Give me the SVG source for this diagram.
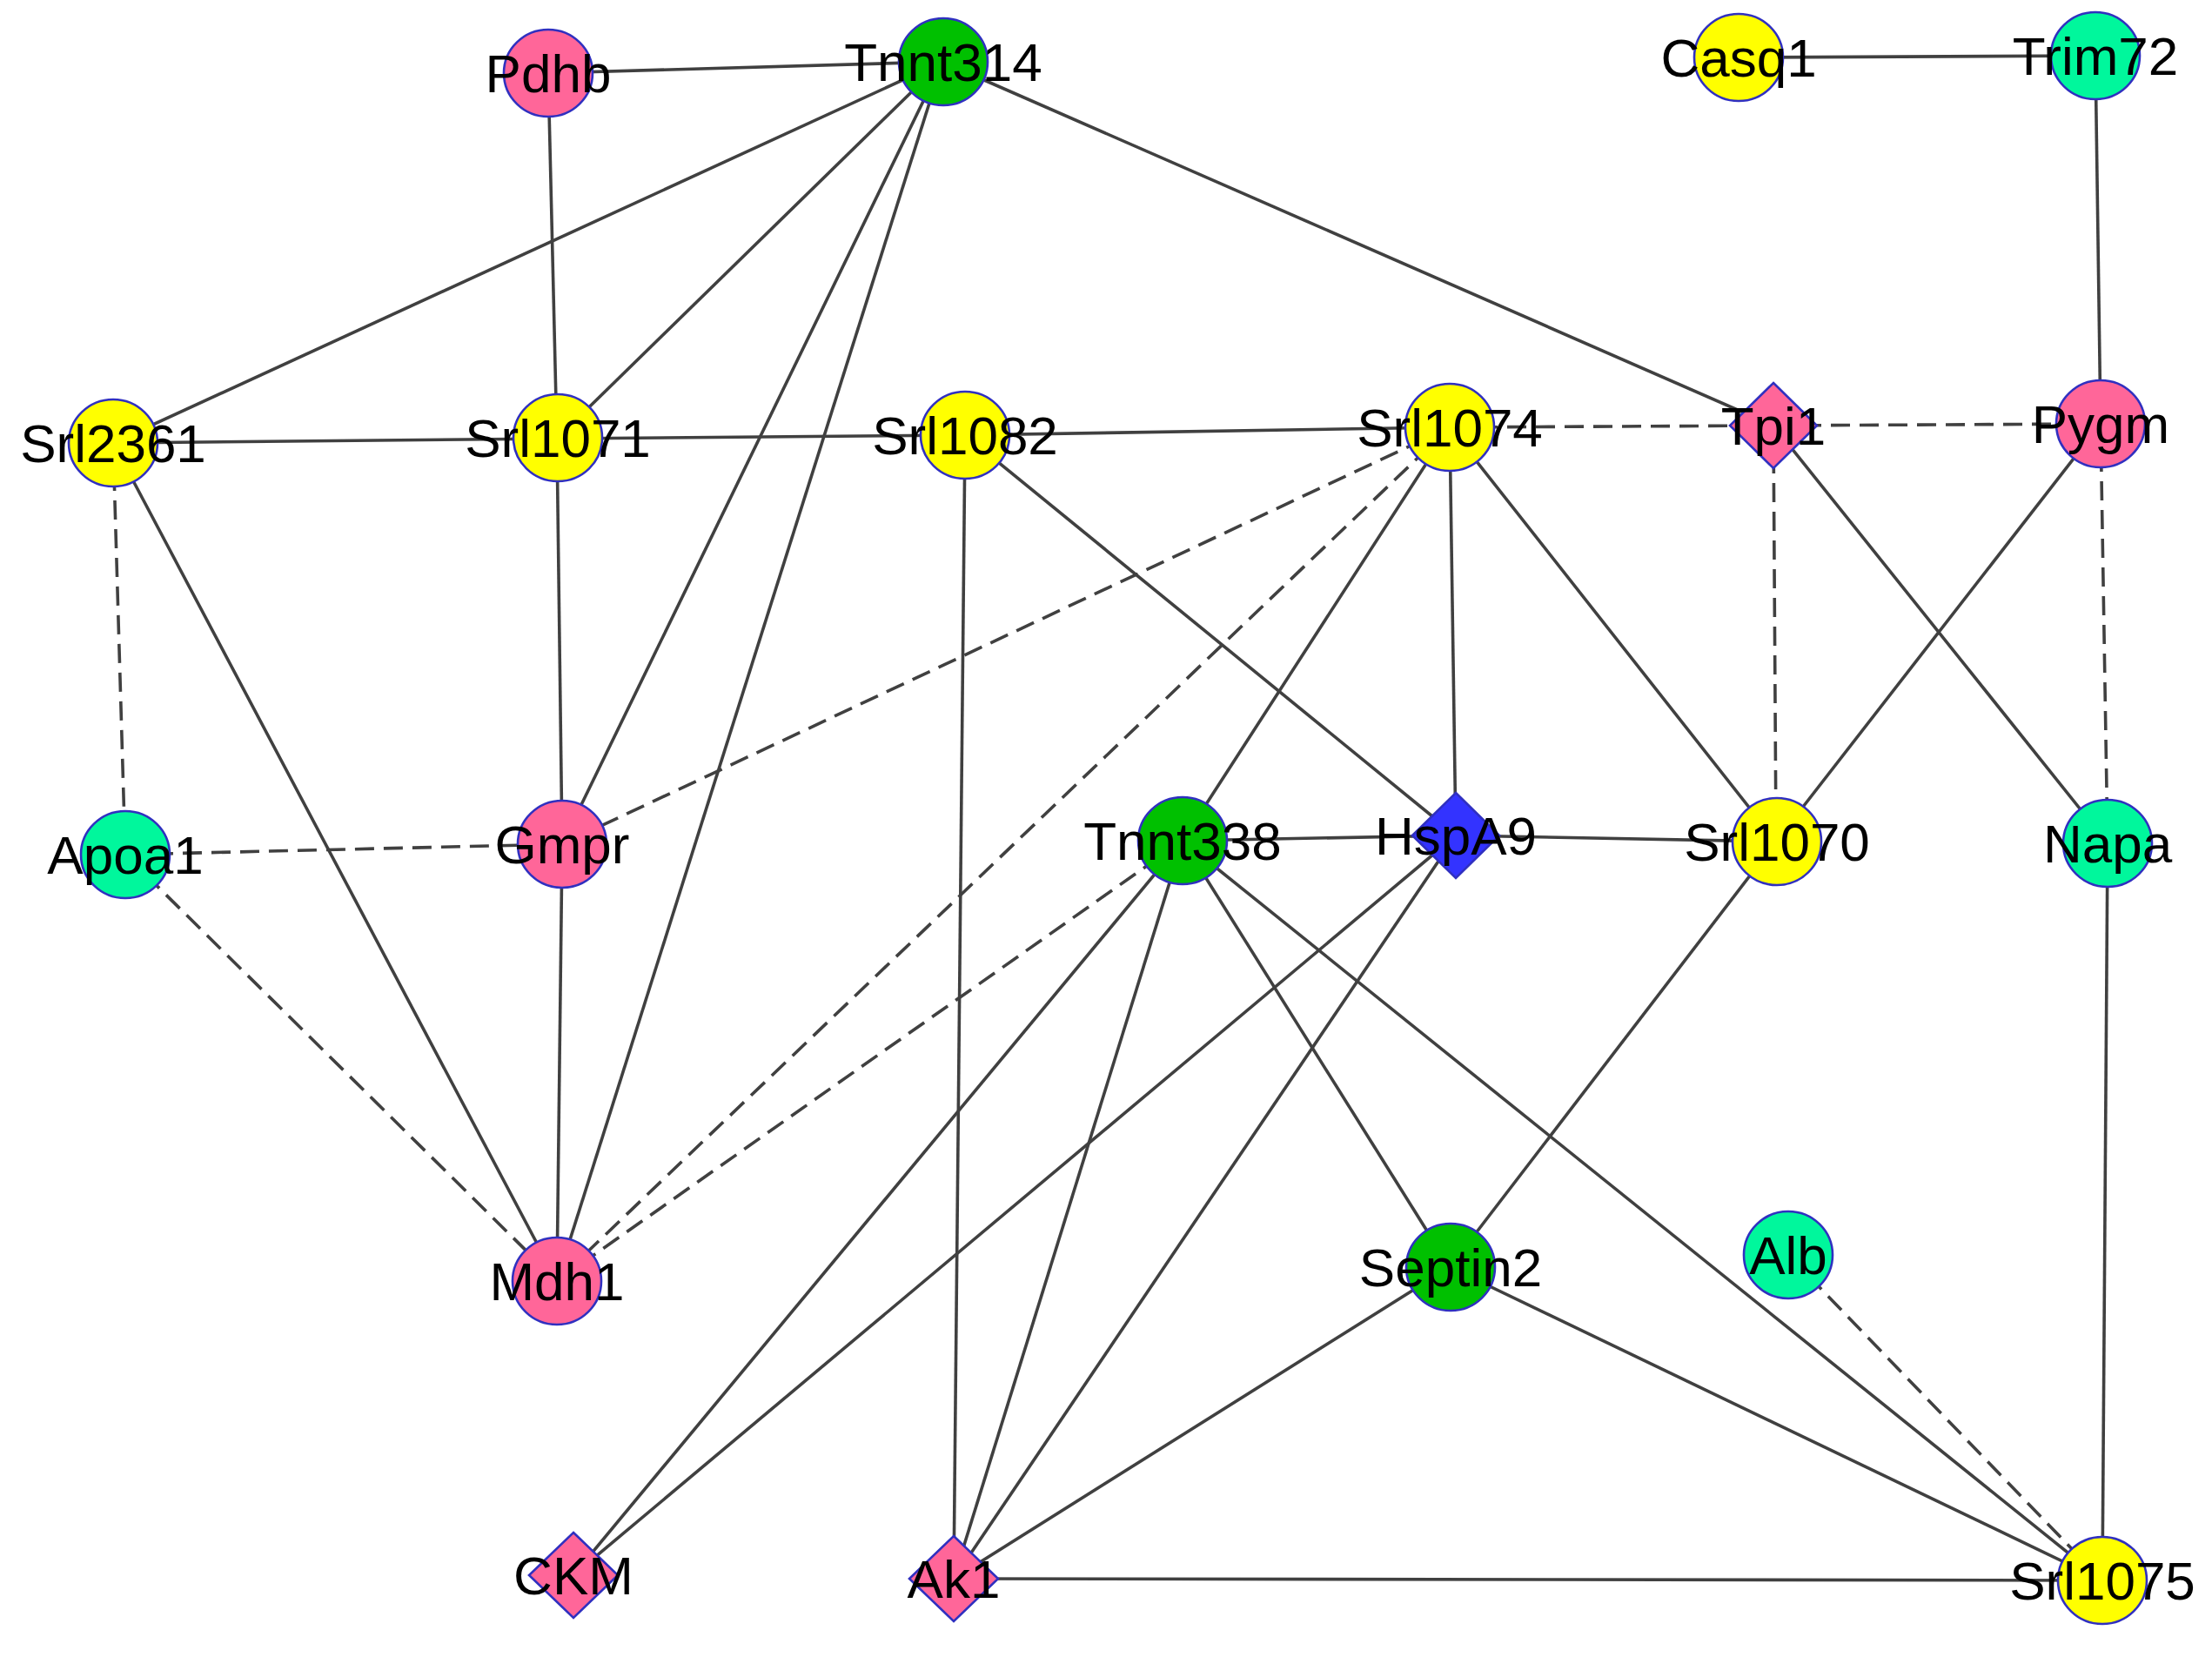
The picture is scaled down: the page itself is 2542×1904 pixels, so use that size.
<svg xmlns="http://www.w3.org/2000/svg" width="2542" height="1904" viewBox="0 0 2542 1904">
<style>
.e{stroke:#404040;stroke-width:3.6;fill:none}
.d{stroke:#404040;stroke-width:3.6;fill:none;stroke-dasharray:22 11}
.n{stroke:#3030c0;stroke-width:2.6}
.pink{fill:#ff6699}
.green{fill:#00c000}
.yellow{fill:#ffff00}
.mint{fill:#00f79c}
.blue{fill:#3333ff}
text{font-family:"Liberation Sans",Arial,sans-serif;font-size:62px;fill:#000;text-anchor:middle}
</style>
<rect width="2542" height="1904" fill="#fff"/>
<g id="connectors">
<line class="e" x1="630" y1="84" x2="1083" y2="71"/>
<line class="e" x1="630" y1="84" x2="640" y2="504"/>
<line class="e" x1="1083" y1="71" x2="130" y2="509"/>
<line class="e" x1="1083" y1="71" x2="640" y2="504"/>
<line class="e" x1="1083" y1="71" x2="646" y2="970"/>
<line class="e" x1="1083" y1="71" x2="640" y2="1472"/>
<line class="e" x1="1083" y1="71" x2="2038" y2="489"/>
<line class="e" x1="1998" y1="66" x2="2408" y2="64"/>
<line class="e" x1="2408" y1="64" x2="2414" y2="487"/>
<line class="e" x1="130" y1="509" x2="640" y2="504"/>
<line class="e" x1="640" y1="504" x2="1109" y2="500"/>
<line class="e" x1="1109" y1="500" x2="1666" y2="491"/>
<line class="e" x1="130" y1="509" x2="640" y2="1472"/>
<line class="e" x1="640" y1="504" x2="646" y2="970"/>
<line class="e" x1="646" y1="970" x2="640" y2="1472"/>
<line class="e" x1="1109" y1="500" x2="1096" y2="1814"/>
<line class="e" x1="1109" y1="500" x2="1673" y2="960"/>
<line class="e" x1="1666" y1="491" x2="1359" y2="966"/>
<line class="e" x1="1666" y1="491" x2="1673" y2="960"/>
<line class="e" x1="1666" y1="491" x2="2041" y2="967"/>
<line class="e" x1="2038" y1="489" x2="2422" y2="969"/>
<line class="e" x1="2414" y1="487" x2="2041" y2="967"/>
<line class="e" x1="1359" y1="966" x2="1673" y2="960"/>
<line class="e" x1="1673" y1="960" x2="2041" y2="967"/>
<line class="e" x1="1359" y1="966" x2="659" y2="1810"/>
<line class="e" x1="1359" y1="966" x2="1096" y2="1814"/>
<line class="e" x1="1359" y1="966" x2="1666" y2="1456"/>
<line class="e" x1="1359" y1="966" x2="2416" y2="1816"/>
<line class="e" x1="1673" y1="960" x2="659" y2="1810"/>
<line class="e" x1="1673" y1="960" x2="1096" y2="1814"/>
<line class="e" x1="2041" y1="967" x2="1666" y2="1456"/>
<line class="e" x1="2422" y1="969" x2="2416" y2="1816"/>
<line class="e" x1="1666" y1="1456" x2="1096" y2="1814"/>
<line class="e" x1="1666" y1="1456" x2="2416" y2="1816"/>
<line class="e" x1="1096" y1="1814" x2="2416" y2="1816"/>
<line class="d" x1="1666" y1="491" x2="2038" y2="489"/>
<line class="d" x1="2038" y1="489" x2="2414" y2="487"/>
<line class="d" x1="130" y1="509" x2="144" y2="982"/>
<line class="d" x1="144" y1="982" x2="646" y2="970"/>
<line class="d" x1="144" y1="982" x2="640" y2="1472"/>
<line class="d" x1="1666" y1="491" x2="646" y2="970"/>
<line class="d" x1="1666" y1="491" x2="640" y2="1472"/>
<line class="d" x1="1359" y1="966" x2="640" y2="1472"/>
<line class="d" x1="2038" y1="489" x2="2041" y2="967"/>
<line class="d" x1="2414" y1="487" x2="2422" y2="969"/>
<line class="d" x1="2055" y1="1442" x2="2416" y2="1816"/>
</g>
<g id="node-Pdhb"><ellipse class="n pink" cx="630" cy="84" rx="51" ry="50"/><text x="630" y="106">Pdhb</text></g>
<g id="node-Tnnt314"><ellipse class="n green" cx="1084" cy="71" rx="51" ry="50"/><text x="1084" y="93">Tnnt314</text></g>
<g id="node-Casq1"><ellipse class="n yellow" cx="1998" cy="66" rx="51" ry="50"/><text x="1998" y="88">Casq1</text></g>
<g id="node-Trim72"><ellipse class="n mint" cx="2408" cy="64" rx="51" ry="50"/><text x="2408" y="86">Trim72</text></g>
<g id="node-Srl2361"><ellipse class="n yellow" cx="130" cy="509" rx="51" ry="50"/><text x="130" y="531">Srl2361</text></g>
<g id="node-Srl1071"><ellipse class="n yellow" cx="641" cy="503" rx="51" ry="50"/><text x="641" y="525">Srl1071</text></g>
<g id="node-Srl1082"><ellipse class="n yellow" cx="1109" cy="500" rx="51" ry="50"/><text x="1109" y="522">Srl1082</text></g>
<g id="node-Srl1074"><ellipse class="n yellow" cx="1666" cy="491" rx="51" ry="50"/><text x="1666" y="513">Srl1074</text></g>
<g id="node-Tpi1"><polygon class="n pink" points="2038,440 2088,489 2038,538 1988,489"/><text x="2038" y="511">Tpi1</text></g>
<g id="node-Pygm"><ellipse class="n pink" cx="2414" cy="487" rx="51" ry="50"/><text x="2414" y="509">Pygm</text></g>
<g id="node-Apoa1"><ellipse class="n mint" cx="144" cy="982" rx="51" ry="50"/><text x="144" y="1004">Apoa1</text></g>
<g id="node-Gmpr"><ellipse class="n pink" cx="646" cy="970" rx="51" ry="50"/><text x="646" y="992">Gmpr</text></g>
<g id="node-Tnnt338"><ellipse class="n green" cx="1359" cy="966" rx="51" ry="50"/><text x="1359" y="988">Tnnt338</text></g>
<g id="node-HspA9"><polygon class="n blue" points="1673,911 1723,960 1673,1009 1623,960"/><text x="1673" y="982">HspA9</text></g>
<g id="node-Srl1070"><ellipse class="n yellow" cx="2042" cy="967" rx="51" ry="50"/><text x="2042" y="989">Srl1070</text></g>
<g id="node-Napa"><ellipse class="n mint" cx="2422" cy="969" rx="51" ry="50"/><text x="2422" y="991">Napa</text></g>
<g id="node-Mdh1"><ellipse class="n pink" cx="640" cy="1472" rx="51" ry="50"/><text x="640" y="1494">Mdh1</text></g>
<g id="node-Septin2"><ellipse class="n green" cx="1667" cy="1456" rx="51" ry="50"/><text x="1667" y="1478">Septin2</text></g>
<g id="node-Alb"><ellipse class="n mint" cx="2055" cy="1442" rx="51" ry="50"/><text x="2055" y="1464">Alb</text></g>
<g id="node-CKM"><polygon class="n pink" points="659,1761 710,1810 659,1859 608,1810"/><text x="659" y="1832">CKM</text></g>
<g id="node-Ak1"><polygon class="n pink" points="1096,1765 1147,1814 1096,1863 1045,1814"/><text x="1096" y="1836">Ak1</text></g>
<g id="node-Srl1075"><ellipse class="n yellow" cx="2416" cy="1816" rx="51" ry="50"/><text x="2416" y="1838">Srl1075</text></g>
</svg>
